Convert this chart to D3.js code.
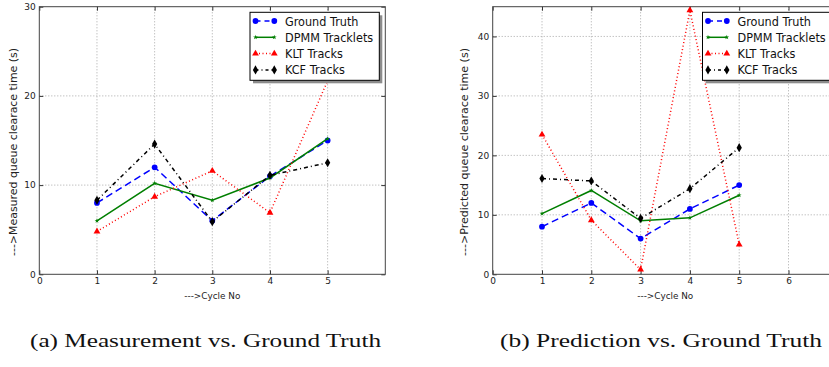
<!DOCTYPE html>
<html>
<head>
<meta charset="utf-8">
<script src="https://cdn.jsdelivr.net/npm/d3@7"></script>
<style>
    body { margin: 0; background: #fff; }
    svg { display: block; }
</style>
</head>
<body>
<script>

// cycles on the x axis
const cycles = [1, 2, 3, 4, 5];

// (a) measured queue clearance time
const measGroundTruth = [8, 12, 6, 11, 15];
const measDpmm = [6, 10.2, 8.3, 10.8, 15.2];
const measKlt = [4.8, 8.7, 11.6, 6.9, 21.7];
const measKcf = [8.3, 14.6, 5.9, 11.1, 12.5];

// (b) predicted queue clearance time
const predGroundTruth = [8, 12, 6, 11, 15];
const predDpmm = [10.2, 14.1, 9.0, 9.5, 13.3];
const predKlt = [23.5, 9.1, 0.8, 44.4, 5.0];
const predKcf = [16.1, 15.7, 9.4, 14.4, 21.3];

const seriesNames = ["Ground Truth", "DPMM Tracklets", "KLT Tracks", "KCF Tracks"];

const leftXTicks = [0, 1, 2, 3, 4, 5];
const leftYTicks = [0, 10, 20, 30];
const rightXTicks = [0, 1, 2, 3, 4, 5, 6];
const rightYTicks = [0, 10, 20, 30, 40];

const captions = ["(a) Measurement vs. Ground Truth", "(b) Prediction vs. Ground Truth"];

// line styles, same order as seriesNames
const styles = [
    {color: "#0000ff", dash: "7,4", legDash: "5,4", symbol: d3.symbolCircle, size: 26},
    {color: "#007f00", dash: null, legDash: null, symbol: d3.symbolStar, size: 7},
    {color: "#ff0000", dash: "1,2.5", legDash: "1,2.5", symbol: d3.symbolTriangle, size: 20},
    {color: "#000000", dash: "4,3,1,3", legDash: "3,3,1,3", symbol: d3.symbolDiamond, size: 24}
];

let svg = d3.select("body").append("svg").attr("width", 829).attr("height", 367);

/**
 * Draws one panel
 */
function drawPanel(opt) {

    let x = d3.scaleLinear().domain(opt.xDomain).range([opt.left, opt.right]);
    let y = d3.scaleLinear().domain(opt.yDomain).range([274.3, 6.7]);

    let g = svg.append("g");

    //grid
    g.selectAll(".vgrid")
        .data(opt.xTicks.filter(d => d > opt.xDomain[0] && d < opt.xDomain[1])).enter()
        .append("line")
        .attr("x1", d => x(d)).attr("x2", d => x(d))
        .attr("y1", y.range()[0]).attr("y2", y.range()[1])
        .attr("stroke", "#a8a8a8").attr("stroke-dasharray", "1,2");

    g.selectAll(".hgrid")
        .data(opt.yTicks.filter(d => d > opt.yDomain[0] && d < opt.yDomain[1])).enter()
        .append("line")
        .attr("x1", opt.left).attr("x2", opt.right)
        .attr("y1", d => y(d)).attr("y2", d => y(d))
        .attr("stroke", "#a8a8a8").attr("stroke-dasharray", "1,2");

    //axes, ticks point inward
    let fmt = d3.format("d");
    let bottom = g.append("g").attr("transform", "translate(0,274.3)")
        .call(d3.axisBottom(x).tickValues(opt.xTicks).tickFormat(fmt).tickSizeInner(-4).tickSizeOuter(0).tickPadding(3));
    let top = g.append("g").attr("transform", "translate(0,6.7)")
        .call(d3.axisTop(x).tickValues(opt.xTicks).tickSizeInner(-4).tickSizeOuter(0).tickFormat(""));
    let leftAx = g.append("g").attr("transform", "translate(" + opt.left + ",0)")
        .call(d3.axisLeft(y).tickValues(opt.yTicks).tickFormat(fmt).tickSizeInner(-4).tickSizeOuter(0).tickPadding(3.5));
    let rightAx = g.append("g").attr("transform", "translate(" + opt.right + ",0)")
        .call(d3.axisRight(y).tickValues(opt.yTicks).tickSizeInner(-4).tickSizeOuter(0).tickFormat(""));

    [bottom, top, leftAx, rightAx].forEach(function(a) {
        a.select(".domain").remove();
        a.attr("font-family", "DejaVu Sans").attr("font-size", 9);
        a.selectAll(".tick line").attr("stroke", "#333");
        a.selectAll(".tick text").attr("fill", "#222");
    });

    //frame
    g.append("rect")
        .attr("x", opt.left).attr("y", 6.7)
        .attr("width", opt.right - opt.left).attr("height", 274.3 - 6.7)
        .attr("fill", "none").attr("stroke", "#444").attr("stroke-width", 1);

    //series
    for (let i = 0; i < opt.series.length; i++) {
        let vals = opt.series[i];
        let st = styles[i];
        let pts = cycles.map((c, j) => [x(c), y(vals[j])]);

        g.append("path")
            .attr("d", d3.line()(pts))
            .attr("fill", "none")
            .attr("stroke", st.color)
            .attr("stroke-width", 1.5)
            .attr("stroke-dasharray", st.dash);

        g.selectAll(".m" + i)
            .data(pts).enter()
            .append("path")
            .attr("d", d3.symbol().type(st.symbol).size(st.size))
            .attr("transform", d => "translate(" + d[0] + "," + d[1] + ")")
            .attr("fill", st.color);
    }

    //axis labels
    g.append("text")
        .text("--->Cycle No")
        .attr("x", (opt.left + opt.right) / 2 - 28).attr("y", 299)
        .attr("font-family", "DejaVu Sans").attr("font-size", 9)
        .attr("textLength", 56).attr("lengthAdjust", "spacingAndGlyphs")
        .attr("fill", "#222");

    g.append("text")
        .text(opt.yLabel)
        .attr("transform", "translate(" + opt.yLabelX + ",256) rotate(-90)")
        .attr("font-family", "DejaVu Sans").attr("font-size", 10)
        .attr("textLength", 208).attr("lengthAdjust", "spacingAndGlyphs")
        .attr("fill", "#222");

    //legend
    let lx = opt.right - 6 - 129.3;
    let ly = 12.3;
    let leg = g.append("g");

    leg.append("rect")
        .attr("x", lx + 3).attr("y", ly + 3)
        .attr("width", 129.3).attr("height", 68)
        .attr("fill", "#8c8c8c");
    leg.append("rect")
        .attr("x", lx).attr("y", ly)
        .attr("width", 129.3).attr("height", 68)
        .attr("fill", "#fff").attr("stroke", "#000").attr("stroke-width", 1);

    for (let i = 0; i < seriesNames.length; i++) {
        let st = styles[i];
        let ry = ly + 8.7 + i * 16.3;

        leg.append("line")
            .attr("x1", lx + 5.5).attr("x2", lx + 24.3)
            .attr("y1", ry).attr("y2", ry)
            .attr("stroke", st.color).attr("stroke-width", 1.5)
            .attr("stroke-dasharray", st.legDash);

        leg.selectAll(".lm" + i)
            .data([lx + 5.5, lx + 24.3]).enter()
            .append("path")
            .attr("d", d3.symbol().type(st.symbol).size(st.size))
            .attr("transform", d => "translate(" + d + "," + ry + ")")
            .attr("fill", st.color);

        let t = leg.append("text")
            .text(seriesNames[i])
            .attr("x", lx + 35).attr("y", ry + 4.5)
            .attr("font-family", "DejaVu Sans").attr("font-size", 12.5)
            .attr("fill", "#111");
        let w = t.node().getComputedTextLength();
        t.attr("textLength", w * 0.9).attr("lengthAdjust", "spacingAndGlyphs");
    }

    //caption
    svg.append("text")
        .text(opt.caption)
        .attr("x", opt.captionX).attr("y", 347)
        .attr("font-family", "Liberation Serif").attr("font-size", 19.5)
        .attr("textLength", opt.captionW).attr("lengthAdjust", "spacingAndGlyphs")
        .attr("fill", "#111");
}

drawPanel({
    xDomain: [0, 6], yDomain: [0, 30],
    left: 39.3, right: 385.3,
    xTicks: leftXTicks, yTicks: leftYTicks,
    series: [measGroundTruth, measDpmm, measKlt, measKcf],
    yLabel: "--->Measured queue clearace time (s)", yLabelX: 17,
    caption: captions[0], captionX: 30, captionW: 351
});

drawPanel({
    xDomain: [0, 7], yDomain: [0, 45],
    left: 492.7, right: 837.8,
    xTicks: rightXTicks, yTicks: rightYTicks,
    series: [predGroundTruth, predDpmm, predKlt, predKcf],
    yLabel: "--->Predicted queue clearace time (s)", yLabelX: 467.5,
    caption: captions[1], captionX: 500, captionW: 322
});

</script>
</body>
</html>
